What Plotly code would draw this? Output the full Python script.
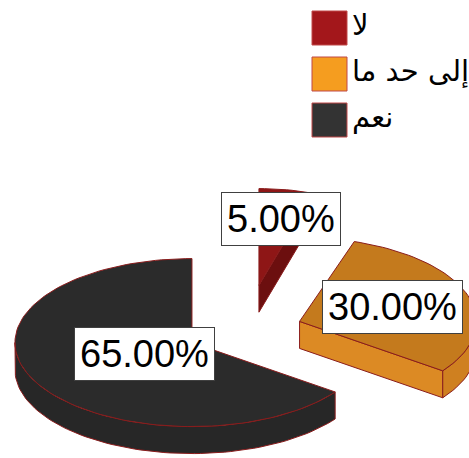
import math
import plotly.graph_objects as go

# ---- data ----
categories = ["لا", "إلى حد ما", "نعم"]
values = [5, 30, 65]
top_colors = ["#8E1616", "#C47A1D", "#2B2B2B"]
side_colors = ["#6C0F0F", "#DC8A24", "#252525"]
wall_colors = ["#7A1212", "#CF8020", "#272727"]
legend_colors = ["#A3171B", "#F59D1F", "#333333"]
explode = [0.54, 0.33, 0.33]
label_frac = [0.8, 0.55, 0.3]

# ---- geometry (pixel space) ----
W, H = 469, 458
CX, CY = 244, 330
RX, RY = 177, 84
T = 27
EDGE = "#8A1C1C"

total = sum(values)
spans = []
acc = 0
for v in values:
    a0 = acc / total * 360
    acc += v
    a1 = acc / total * 360
    spans.append((a0, a1))


def rim(ax, ay, deg, dy=0.0, ry=RY):
    r = math.radians(deg)
    return ax + RX * math.sin(r), ay - ry * math.cos(r) + dy


def arc(ax, ay, d0, d1, dy=0.0, ry=RY):
    n = max(2, int(abs(d1 - d0) / 2) + 2)
    return [rim(ax, ay, d0 + (d1 - d0) * k / (n - 1), dy, ry) for k in range(n)]


fig = go.Figure()


def add_poly(pts, color, lw=1):
    xs = [p[0] for p in pts] + [pts[0][0]]
    ys = [p[1] for p in pts] + [pts[0][1]]
    fig.add_trace(go.Scatter(x=xs, y=ys, mode="lines", fill="toself",
                             fillcolor=color, line=dict(color=EDGE, width=lw),
                             hoverinfo="skip", showlegend=False))


label_pos = []
for i, (a0, a1) in enumerate(spans):
    mid = math.radians((a0 + a1) / 2)
    ex = CX + explode[i] * RX * math.sin(mid)
    ey = CY - explode[i] * RY * math.cos(mid)
    # the far slice appears taller in the reference perspective
    ry = RY * (1.15 if i == 0 else 1.0)
    # visible cut face at the end edge
    if 0 < a1 < 180:
        p = rim(ex, ey, a1, 0, ry)
        add_poly([(ex, ey), p, (p[0], p[1] + T), (ex, ey + T)], side_colors[i])
    if 180 < a0 < 360:
        p = rim(ex, ey, a0, 0, ry)
        add_poly([(ex, ey), p, (p[0], p[1] + T), (ex, ey + T)], side_colors[i])
    # visible outer wall (front half 90..270)
    b0, b1 = max(a0, 90), min(a1, 270)
    if b1 > b0:
        top = arc(ex, ey, b0, b1, 0, ry)
        bot = arc(ex, ey, b1, b0, T, ry)
        add_poly(top + bot, wall_colors[i])
    # top face
    add_poly([(ex, ey)] + arc(ex, ey, a0, a1, 0, ry), top_colors[i])
    lx = ex + label_frac[i] * RX * math.sin(mid)
    ly = ey - label_frac[i] * RY * math.cos(mid)
    label_pos.append((lx, ly))

annotations = []
for i, v in enumerate(values):
    lx, ly = label_pos[i]
    annotations.append(dict(x=lx, y=ly, xref="x", yref="y", text=f"{v:.2f}%",
                            showarrow=False, bgcolor="white", bordercolor="#404040",
                            borderwidth=1, borderpad=5,
                            font=dict(family="Liberation Sans, Arial", size=38, color="black")))

shapes = []
for i, cat in enumerate(categories):
    y0 = 11 + 46 * i
    shapes.append(dict(type="rect", xref="x", yref="y", x0=312, x1=347, y0=y0, y1=y0 + 34,
                       fillcolor=legend_colors[i], line=dict(color="#C04848", width=1)))

legend_texts = []
for i, cat in enumerate(categories):
    y0 = 11 + 46 * i
    legend_texts.append(go.Scatter(x=[352], y=[y0 + 17], mode="text", text=[cat],
                                   textposition="middle right", hoverinfo="skip",
                                   showlegend=False, cliponaxis=False,
                                   textfont=dict(family="DejaVu Sans", size=29, color="black")))

fig.update_layout(
    width=W, height=H, margin=dict(l=0, r=0, t=0, b=0),
    paper_bgcolor="white", plot_bgcolor="white",
    xaxis=dict(range=[0, W], visible=False, fixedrange=True),
    yaxis=dict(range=[H, 0], visible=False, fixedrange=True),
    annotations=annotations, shapes=shapes, showlegend=False,
)
for t in legend_texts:
    fig.add_trace(t)

fig.write_html("out.html")
